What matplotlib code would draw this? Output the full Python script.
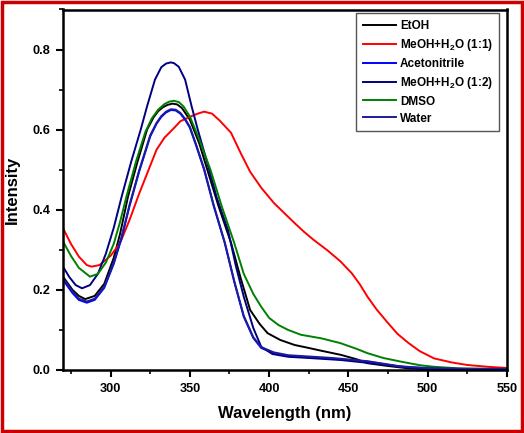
import matplotlib.pyplot as plt
from matplotlib.patches import Rectangle
from matplotlib.ticker import MultipleLocator

plt.rcParams['font.family'] = ['Liberation Sans', 'DejaVu Sans']
plt.rcParams['font.weight'] = 'bold'
plt.rcParams['mathtext.fontset'] = 'custom'
plt.rcParams['mathtext.rm'] = 'Liberation Sans:bold'
plt.rcParams['mathtext.default'] = 'rm'

# EtOH (black)
etoh_wl = [270, 276, 280, 284, 290, 296, 302, 306, 311, 317, 323, 327, 330, 333, 336, 339,
           342, 345, 350, 356, 361, 368, 376, 382, 388, 394, 399, 407, 416, 425, 433, 445,
           455, 462, 475, 488, 500, 525, 550]
etoh = [0.233, 0.200, 0.185, 0.177, 0.185, 0.215, 0.280, 0.340, 0.433, 0.520, 0.600, 0.630,
        0.646, 0.656, 0.662, 0.665, 0.663, 0.654, 0.625, 0.565, 0.500, 0.410, 0.317, 0.230,
        0.150, 0.115, 0.092, 0.075, 0.0625, 0.055, 0.048, 0.038, 0.027, 0.017, 0.010, 0.004,
        0.002, 0.001, 0.001]

# MeOH+H2O (1:1) (red)
meoh11_wl = [270, 275, 280, 285, 288, 293, 300, 306, 312, 318, 324, 329, 334, 340, 344, 350,
             355, 359, 364, 369, 376, 382, 388, 395, 403, 410, 416, 422, 428, 437, 445, 452,
             457, 462, 468, 475, 481, 488, 495, 504, 515, 525, 538, 550]
meoh11 = [0.354, 0.315, 0.283, 0.262, 0.258, 0.262, 0.285, 0.317, 0.375, 0.440, 0.500, 0.550,
          0.580, 0.604, 0.621, 0.632, 0.640, 0.645, 0.640, 0.622, 0.592, 0.542, 0.495, 0.455,
          0.417, 0.390, 0.367, 0.345, 0.325, 0.298, 0.271, 0.242, 0.215, 0.183, 0.150, 0.117,
          0.090, 0.067, 0.047, 0.029, 0.019, 0.0125, 0.008, 0.005]

# Acetonitrile (blue)
acn_wl = [270, 276, 280, 285, 290, 296, 302, 307, 312, 318, 325, 329, 332, 335, 338, 341,
          344, 347, 350, 354, 359, 365, 372, 378, 384, 390, 395, 403, 412, 420, 440, 462,
          483, 500, 525, 550]
acn = [0.225, 0.192, 0.175, 0.168, 0.175, 0.205, 0.265, 0.330, 0.410, 0.495, 0.583, 0.615,
       0.632, 0.643, 0.649, 0.648, 0.640, 0.625, 0.605, 0.560, 0.500, 0.410, 0.317, 0.220,
       0.133, 0.080, 0.055, 0.042, 0.035, 0.033, 0.028, 0.021, 0.008, 0.004, 0.002, 0.002]

# MeOH+H2O (1:2) (navy)
meoh12_wl = [270, 274, 278, 282, 287, 292, 297, 302, 307, 313, 319, 323, 328, 332, 335, 338,
             340, 343, 347, 351, 355, 361, 367, 374, 379, 384, 390, 395, 402, 412, 425, 445,
             462, 480, 495, 520, 550]
meoh12 = [0.258, 0.232, 0.212, 0.204, 0.212, 0.240, 0.290, 0.355, 0.433, 0.520, 0.600, 0.658,
          0.725, 0.756, 0.765, 0.768, 0.766, 0.757, 0.725, 0.660, 0.600, 0.517, 0.430, 0.350,
          0.260, 0.183, 0.105, 0.058, 0.040, 0.033, 0.030, 0.025, 0.018, 0.010, 0.004, 0.002,
          0.002]

# DMSO (green)
dmso_wl = [270, 275, 280, 287, 292, 297, 302, 306, 310, 316, 322, 326, 330, 334, 337, 340,
           343, 346, 350, 356, 363, 370, 378, 384, 390, 395, 400, 406, 412, 420, 433, 445,
           455, 462, 472, 483, 495, 504, 520, 550]
dmso = [0.321, 0.285, 0.255, 0.233, 0.240, 0.268, 0.315, 0.370, 0.433, 0.520, 0.595, 0.628,
        0.650, 0.664, 0.670, 0.672, 0.669, 0.658, 0.633, 0.575, 0.500, 0.410, 0.317, 0.240,
        0.190, 0.158, 0.130, 0.112, 0.100, 0.088, 0.079, 0.067, 0.053, 0.042, 0.030, 0.021,
        0.012, 0.008, 0.004, 0.002]

# Water (dark blue)
water_wl = [270, 276, 280, 285, 290, 296, 302, 307, 312, 318, 325, 329, 332, 335, 338, 341,
            344, 347, 350, 354, 359, 365, 372, 378, 384, 390, 395, 403, 412, 420, 440, 462,
            483, 500, 525, 550]
water = [0.230, 0.196, 0.178, 0.171, 0.178, 0.208, 0.268, 0.333, 0.413, 0.498, 0.586, 0.617,
         0.634, 0.645, 0.651, 0.650, 0.642, 0.627, 0.607, 0.562, 0.502, 0.412, 0.319, 0.222,
         0.135, 0.082, 0.057, 0.044, 0.037, 0.035, 0.030, 0.022, 0.009, 0.005, 0.003, 0.003]

fig = plt.figure(figsize=(5.24, 4.33), dpi=100)
ax = fig.add_axes([63 / 524, 63 / 433, 444 / 524, 360.5 / 433])

ax.plot(etoh_wl, etoh, color='black', lw=1.4, label='EtOH')
ax.plot(meoh11_wl, meoh11, color='#ff0000', lw=1.4, label=r'MeOH+H$_2$O (1:1)')
ax.plot(acn_wl, acn, color='#0000ff', lw=1.4, label='Acetonitrile')
ax.plot(meoh12_wl, meoh12, color='#000080', lw=1.4, label=r'MeOH+H$_2$O (1:2)')
ax.plot(dmso_wl, dmso, color='#008000', lw=1.4, label='DMSO')
ax.plot(water_wl, water, color='#1c1c9c', lw=1.4, label='Water')

ax.set_xlim(270, 550)
ax.set_ylim(0, 0.9)
ax.xaxis.set_major_locator(MultipleLocator(50))
ax.xaxis.set_minor_locator(MultipleLocator(25))
ax.yaxis.set_minor_locator(MultipleLocator(0.1))
ax.set_yticks([0.0, 0.2, 0.4, 0.6, 0.8])
ax.tick_params(which='major', direction='out', length=5, width=1.5, labelsize=9.2, pad=4)
ax.tick_params(which='minor', direction='out', length=3, width=1.2)
ax.tick_params(top=False, right=False)
for s in ax.spines.values():
    s.set_linewidth(1.8)

ax.set_xlabel('Wavelength (nm)', fontsize=12, fontweight='bold', labelpad=8)
ax.set_ylabel('Intensity', fontsize=12, fontweight='bold', labelpad=9)

leg = ax.legend(loc='upper right', bbox_to_anchor=(0.9827, 0.9895), borderaxespad=0,
                fontsize=8.5, frameon=True, fancybox=False, edgecolor='#555555',
                handlelength=2.8, borderpad=0.55, labelspacing=0.42, handletextpad=0.35,
                framealpha=1)
leg.get_frame().set_linewidth(1.0)

fig.patches.append(Rectangle((0.003, 0.004), 0.994, 0.992, transform=fig.transFigure,
                             fill=False, edgecolor='#cc0000', linewidth=2.5))

fig.savefig('out.png', dpi=100)
